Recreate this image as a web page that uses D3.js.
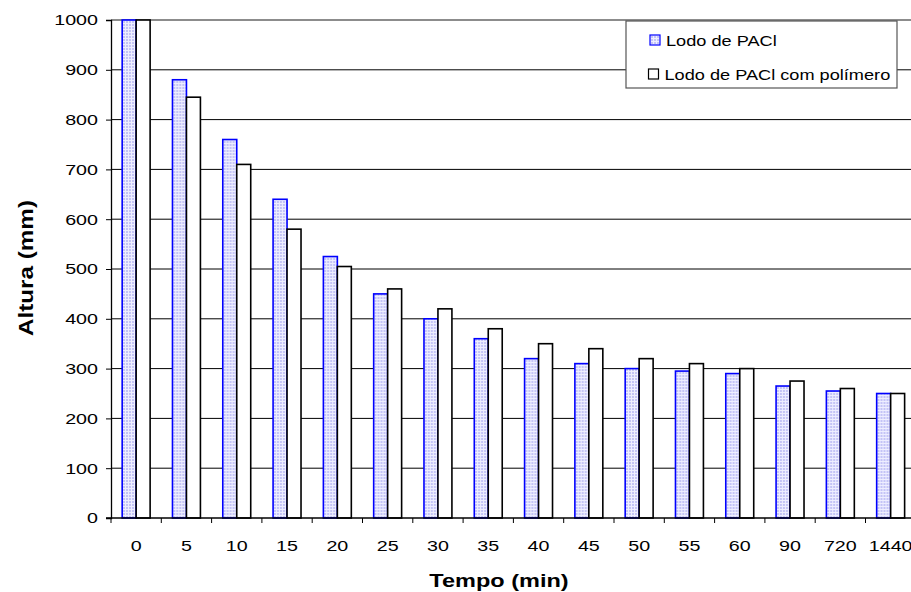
<!DOCTYPE html>
<html>
<head>
<meta charset="utf-8">
<script src="https://cdn.jsdelivr.net/npm/d3@7"></script>
<style>
  html, body { margin: 0; padding: 0; background: #fff; }
  svg { display: block; font-family: "Liberation Sans", Arial, sans-serif; }
</style>
</head>
<body>
<svg id="chart" width="911" height="592"></svg>
<script>
// ---- data ----
const categories = ["0","5","10","15","20","25","30","35","40","45","50","55","60","90","720","1440"];
const seriesNames = ["Lodo de PACl", "Lodo de PACl com polímero"];
const pacl =      [1000, 880, 760, 640, 525, 450, 400, 360, 320, 310, 300, 295, 290, 265, 255, 250];
const paclPolim = [1000, 845, 710, 580, 505, 460, 420, 380, 350, 340, 320, 310, 300, 275, 260, 250];
const yTicks = [0,100,200,300,400,500,600,700,800,900,1000];
const xTitle = "Tempo (min)";
const yTitle = "Altura (mm)";

(function () {
const FONT = "'Liberation Sans', Arial, sans-serif";
// ---- layout ----
const svg = d3.select("#chart");
const mLeft = 111, mTop = 20, mBottom = 518, step = 50.3;
const mRight = mLeft + categories.length * step;
const stretch = 1.27;

const x = d3.scaleBand().domain(categories).range([mLeft, mRight]).paddingInner(0).paddingOuter(0);
const xs = d3.scaleBand().domain([0,1]).range([0, x.bandwidth()]).paddingInner(0).paddingOuter(0.8);
const y = d3.scaleLinear().domain([0, 1000]).range([mBottom, mTop]);

const defs = svg.append("defs");
const pat = defs.append("pattern").attr("id","dots").attr("patternUnits","userSpaceOnUse")
  .attr("width",3).attr("height",3);
pat.append("rect").attr("width",3).attr("height",3).attr("fill","#eeeeff");
pat.append("rect").attr("x",0).attr("y",0).attr("width",2).attr("height",2).attr("fill","#c4c4f6");

// gridlines
svg.append("g").selectAll("line").data(yTicks.filter(d => d > 0 && d < 1000)).join("line")
  .attr("x1", mLeft).attr("x2", mRight).attr("y1", d => y(d)).attr("y2", d => y(d))
  .attr("stroke", "#000").attr("stroke-width", 1);
// top border (gray)
svg.append("line").attr("x1", mLeft).attr("x2", mRight).attr("y1", y(1000)).attr("y2", y(1000))
  .attr("stroke", "#8c8c8c").attr("stroke-width", 2);

// bars
const data = categories.map((c, i) => ({c, v: [pacl[i], paclPolim[i]]}));
const g = svg.append("g").selectAll("g").data(data).join("g")
  .attr("transform", d => `translate(${x(d.c)},0)`);
g.append("rect")
  .attr("x", xs(0)).attr("width", xs.bandwidth())
  .attr("y", d => y(d.v[0])).attr("height", d => y(0) - y(d.v[0]))
  .attr("fill", "url(#dots)").attr("stroke", "#0000ff").attr("stroke-width", 1.6);
g.append("rect")
  .attr("x", xs(1)).attr("width", xs.bandwidth())
  .attr("y", d => y(d.v[1])).attr("height", d => y(0) - y(d.v[1]))
  .attr("fill", "#fff").attr("stroke", "#000").attr("stroke-width", 1.6);

// y axis
const yAxis = svg.append("g").attr("transform", `translate(${mLeft},0)`)
  .call(d3.axisLeft(y).tickValues(yTicks).tickSize(5).tickPadding(8).tickFormat(d3.format("d")));
yAxis.select(".domain").attr("stroke", "#000").attr("stroke-width", 1.3);
yAxis.selectAll(".tick line").attr("stroke", "#000");
yAxis.selectAll("text").attr("font-size", 15.5).attr("fill", "#000").attr("font-family", FONT);

// x axis
svg.append("line").attr("x1", mLeft - 5).attr("x2", mRight).attr("y1", mBottom).attr("y2", mBottom)
  .attr("stroke", "#000").attr("stroke-width", 1.3);
svg.append("g").selectAll("line").data(categories).join("line")
  .attr("x1", d => x(d)).attr("x2", d => x(d)).attr("y1", mBottom).attr("y2", mBottom + 5)
  .attr("stroke", "#000");
svg.append("g").selectAll("text").data(categories).join("text")
  .attr("class", "xt").attr("font-family", FONT)
  .attr("x", d => x(d) + x.bandwidth() / 2).attr("y", 551)
  .attr("text-anchor", "middle").attr("font-size", 15.5).text(d => d);

// titles
svg.append("text").attr("class","st").attr("font-family", FONT).attr("x", (mLeft + 887) / 2).attr("y", 587)
  .attr("text-anchor", "middle").attr("font-size", 18.5).attr("font-weight", "bold").text(xTitle);
svg.append("text").attr("font-family", FONT).attr("transform", "translate(33,268) rotate(-90)")
  .attr("text-anchor", "middle").attr("font-size", 20).attr("font-weight", "bold")
  .attr("textLength", 136).attr("lengthAdjust", "spacingAndGlyphs").text(yTitle);

// legend
const lg = svg.append("g");
lg.append("rect").attr("x", 626).attr("y", 21).attr("width", 271).attr("height", 67)
  .attr("fill", "#fff").attr("stroke", "#555").attr("stroke-width", 1.2);
const legendY = [40, 74];
seriesNames.forEach((s, i) => {
  lg.append("rect").attr("x", 650 - i * 1.5).attr("y", legendY[i] - 5).attr("width", 10).attr("height", 10)
    .attr("fill", i === 0 ? "url(#dots)" : "#fff").attr("stroke", i === 0 ? "#0000ff" : "#000").attr("stroke-width", 1.2);
  lg.append("text").attr("class","st").attr("font-family", FONT).attr("x", 666 - i * 1.5).attr("y", legendY[i] + 5.5)
    .attr("font-size", 14.3).text(s);
});

// horizontal stretch of text to match reference
svg.selectAll(".tick text, .xt, .st").each(function() {
  const w = this.getComputedTextLength();
  d3.select(this).attr("textLength", w * stretch).attr("lengthAdjust", "spacingAndGlyphs");
});
})();
</script>
</body>
</html>
